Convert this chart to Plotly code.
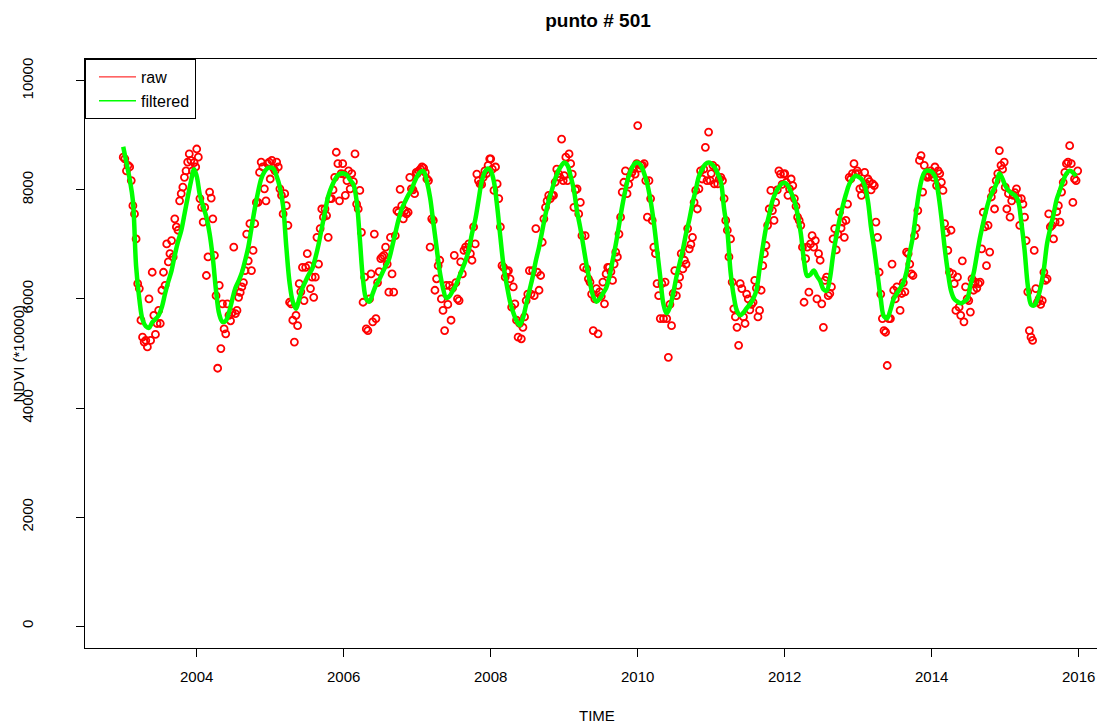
import plotly.graph_objects as go

# ---- data (NDVI * 10000) ----
years = list(range(2003, 2016))
x_ticks = [2004, 2006, 2008, 2010, 2012, 2014, 2016]
y_ticks = [0, 2000, 4000, 6000, 8000, 10000]

# raw observations: 46 composites (8-day) per year
raw_2003 = [8600, 8570, 8350, 8450, 8420, 8170, 7710, 7560, 7100, 6280, 6190, 5610, 5300, 5210, 5240, 5120, 6000, 5240, 6490, 5700, 5350, 5550, 5790, 5550, 6160, 6490, 6250, 7010, 6680, 6830, 7070, 6770, 7470, 7320, 7260, 7800, 7930, 8050, 8230, 8350, 8510, 8660, 8540, 8350, 8500, 8420]
raw_2004 = [8750, 8600, 7840, 7680, 7410, 7680, 6430, 6770, 7960, 7850, 7470, 6800, 6060, 4730, 6250, 5090, 5910, 5450, 5360, 5910, 5700, 5600, 5750, 6950, 5730, 5790, 6030, 6120, 6220, 6300, 6520, 7190, 6700, 7380, 6520, 6890, 7380, 7770, 7770, 8320, 8510, 8420, 8020, 7800, 8480, 8510]
raw_2005 = [8200, 8540, 8400, 8350, 8510, 8420, 8020, 7900, 7560, 7930, 7710, 7350, 5940, 5910, 5610, 5210, 5700, 5510, 6280, 6130, 6580, 5970, 6580, 6830, 6610, 6190, 6400, 6030, 6400, 7130, 6640, 7290, 7650, 7500, 7650, 7530, 7130, 7840, 7840, 8000, 8230, 8690, 8480, 7800, 8300, 8480]
raw_2006 = [8290, 7900, 8170, 8350, 8020, 8300, 8150, 8660, 7740, 7650, 7990, 7220, 5940, 6400, 5450, 5420, 6000, 6460, 5580, 7190, 5640, 6300, 6500, 6740, 6770, 6800, 6950, 6640, 6125, 7130, 6460, 6125, 7160, 7620, 7590, 8010, 7710, 7470, 7620, 7560, 7590, 8230, 8020, 8000, 7930, 8320]
raw_2007 = [8300, 8350, 8380, 8420, 8400, 8320, 8200, 8170, 6950, 7470, 7440, 6160, 6370, 6610, 6710, 6000, 5790, 5420, 6250, 5900, 6250, 5610, 6200, 6800, 6300, 6000, 5970, 6680, 6460, 6890, 6950, 6900, 7010, 6830, 6710, 7320, 7010, 8290, 8170, 8110, 8100, 8230, 8350, 8300, 8450, 8570]
raw_2008 = [8570, 8380, 7990, 8420, 8110, 7840, 7320, 6610, 6580, 6400, 6500, 6520, 6370, 5850, 6220, 5910, 5610, 5300, 5550, 5270, 5480, 5670, 5970, 6090, 6520, 6090, 6520, 6060, 7290, 6490, 6160, 6430, 7040, 7470, 7680, 7800, 7900, 7840, 7900, 7900, 8140, 8380, 8300, 8230, 8930, 8170]
raw_2009 = [8260, 8600, 8170, 8660, 8480, 8290, 7680, 8000, 8020, 7560, 7770, 7160, 6580, 7160, 6550, 6370, 6310, 6090, 5420, 6000, 6190, 5360, 6130, 6050, 6310, 5910, 6460, 6580, 6580, 6500, 6340, 6640, 6860, 6770, 7190, 7500, 7960, 8140, 8350, 7930, 8100, 8230, 8320, 8380, 8290, 8480]
raw_2010 = [9180, 8400, 8450, 8450, 8480, 8170, 7500, 8170, 7840, 7440, 6950, 6830, 6280, 6060, 5640, 6280, 5640, 6310, 5640, 4930, 5900, 5510, 6100, 6520, 6060, 6250, 6400, 6830, 6550, 6710, 6640, 7290, 6920, 7000, 7130, 7770, 7990, 7650, 8020, 8350, 8200, 8380, 8780, 8170, 9060, 8170]
raw_2011 = [8300, 8450, 8110, 8400, 8110, 8200, 8230, 8170, 7840, 7440, 7260, 6770, 7100, 6310, 5820, 5670, 5480, 5150, 6280, 6190, 5670, 5550, 6090, 6000, 5800, 5900, 5940, 6340, 6200, 5670, 5790, 6160, 6610, 6830, 6980, 7350, 7650, 7990, 7620, 7440, 7770, 8000, 8350, 8290, 8100, 8290]
raw_2012 = [8300, 8140, 7900, 8020, 8200, 8080, 7840, 7700, 7500, 7440, 7350, 6950, 5940, 6740, 6950, 6125, 7010, 7160, 6950, 7070, 6000, 6830, 6710, 5910, 5480, 6340, 6400, 6060, 6100, 6220, 7100, 7290, 6900, 7190, 7590, 7300, 7410, 7130, 7440, 7740, 8230, 8200, 8300, 8480, 8300, 8350]
raw_2013 = [8300, 8020, 7900, 8050, 8320, 8110, 8200, 8150, 8000, 8110, 8080, 7410, 7130, 6490, 6090, 5640, 5420, 5390, 4780, 5640, 5640, 6640, 6160, 6000, 6220, 6130, 5790, 6100, 6300, 6130, 6860, 6830, 6640, 6460, 6430, 7160, 7300, 7620, 8540, 8630, 7960, 8450, 8260, 8230, 8260, 8350]
raw_2014 = [8300, 8230, 8420, 8080, 8350, 8300, 8140, 7990, 7380, 7220, 6890, 6490, 7260, 6460, 6280, 5790, 6400, 5850, 5700, 6700, 5580, 6220, 6000, 5970, 5760, 6370, 6160, 6310, 6200, 6280, 6310, 6920, 7590, 7320, 6610, 7350, 6860, 7870, 7990, 7650, 8170, 8300, 8720, 8450, 8380, 8510]
raw_2015 = [8050, 7650, 7930, 7500, 7800, 7900, 7950, 8020, 7840, 7350, 7840, 7740, 7500, 7070, 6130, 5420, 5300, 5240, 6890, 6190, 5940, 6000, 5900, 5970, 6490, 6340, 6370, 7560, 7320, 7350, 7100, 7410, 7600, 7710, 7410, 7960, 8140, 8320, 8480, 8510, 8810, 8480, 7770, 8200, 8170, 8350]

# filtered series: 23 composites (16-day) per year
filt_2003 = [8790, 8500, 8200, 7800, 6600, 6000, 5620, 5500, 5470, 5570, 5630, 5700, 5850, 6100, 6320, 6520, 6800, 7050, 7250, 7550, 7860, 8150, 8380]
filt_2004 = [8250, 7900, 7700, 7500, 7200, 6750, 6150, 5720, 5580, 5600, 5750, 5980, 6200, 6330, 6480, 6700, 6950, 7300, 7650, 7950, 8200, 8330, 8400]
filt_2005 = [8410, 8390, 8250, 8050, 7700, 6950, 6300, 5950, 5820, 6000, 6200, 6330, 6450, 6550, 6750, 7000, 7300, 7600, 7880, 8050, 8180, 8270, 8300]
filt_2006 = [8300, 8270, 8180, 8100, 7800, 7100, 6350, 6000, 5950, 6100, 6250, 6350, 6480, 6600, 6720, 6950, 7200, 7450, 7650, 7780, 7900, 8000, 8150]
filt_2007 = [8250, 8330, 8340, 8150, 7860, 7400, 6950, 6500, 6200, 6020, 6050, 6150, 6250, 6400, 6550, 6700, 6900, 7200, 7450, 7800, 8150, 8330, 8390]
filt_2008 = [8350, 8150, 7700, 7130, 6600, 6250, 5950, 5750, 5600, 5520, 5650, 5900, 6150, 6400, 6700, 6950, 7250, 7550, 7800, 8000, 8200, 8350, 8450]
filt_2009 = [8500, 8450, 8250, 8000, 7600, 7300, 6950, 6600, 6300, 6050, 5950, 6000, 6100, 6200, 6400, 6700, 7000, 7350, 7700, 8000, 8250, 8400, 8490]
filt_2010 = [8500, 8450, 8300, 8100, 7800, 7400, 6900, 6400, 5900, 5740, 5850, 6100, 6400, 6650, 6900, 7200, 7450, 7750, 8000, 8250, 8380, 8470, 8500]
filt_2011 = [8480, 8420, 8300, 8150, 7650, 7250, 6500, 6050, 5780, 5700, 5750, 5830, 5900, 6000, 6150, 6550, 6950, 7300, 7550, 7800, 7950, 8050, 8120]
filt_2012 = [8130, 8080, 7950, 7800, 7550, 7200, 6700, 6420, 6450, 6520, 6420, 6330, 6180, 6150, 6370, 6800, 7150, 7450, 7700, 7920, 8100, 8200, 8260]
filt_2013 = [8240, 8200, 8080, 7800, 7300, 6900, 6450, 6000, 5680, 5650, 5800, 6000, 6100, 6190, 6300, 6500, 6850, 7150, 7600, 8000, 8250, 8350, 8350]
filt_2014 = [8330, 8250, 7950, 7500, 6950, 6500, 6150, 6000, 5950, 5920, 5950, 6000, 6250, 6470, 6800, 7130, 7400, 7650, 7850, 7980, 8100, 8300, 8200]
filt_2015 = [8080, 7990, 7940, 7900, 7800, 7400, 6900, 6250, 5900, 5880, 6000, 6220, 6550, 7020, 7300, 7550, 7830, 8000, 8170, 8300, 8350, 8320, 8250]

raw_by_year = [raw_2003, raw_2004, raw_2005, raw_2006, raw_2007, raw_2008, raw_2009,
               raw_2010, raw_2011, raw_2012, raw_2013, raw_2014, raw_2015]
filt_by_year = [filt_2003, filt_2004, filt_2005, filt_2006, filt_2007, filt_2008, filt_2009,
                filt_2010, filt_2011, filt_2012, filt_2013, filt_2014, filt_2015]

# composite dates as decimal years (8-day for raw, 16-day for filtered)
raw_t, raw_v, filt_t, filt_v = [], [], [], []
for yr, rv, fv in zip(years, raw_by_year, filt_by_year):
    assert len(rv) == 46, (yr, len(rv))
    assert len(fv) == 23, (yr, len(fv))
    raw_t += [yr + 8 * j / 365.0 for j in range(len(rv))]
    raw_v += rv
    filt_t += [yr + 16 * k / 365.0 for k in range(len(fv))]
    filt_v += fv

FONT = "Liberation Sans, Arial, sans-serif"

# the page body has an 8 px margin: the figure is sized/placed to compensate
W, H = 1097, 714
ML, MT, MB = 77, 51, 74
PW = W - ML              # plot width (extends to the window's right edge)
PH = H - MT - MB         # plot height

fig = go.Figure()
fig.add_trace(go.Scatter(
    x=raw_t, y=raw_v, mode="markers", showlegend=False,
    marker=dict(symbol="circle-open", size=7, color="#FF0000",
                line=dict(width=1.8, color="#FF0000"))))
fig.add_trace(go.Scatter(
    x=filt_t, y=filt_v, mode="lines", showlegend=False,
    line=dict(color="#00FF00", width=4.5, shape="spline")))
# legend entries drawn as thin lines (as in the original legend)
fig.add_trace(go.Scatter(x=[None], y=[None], mode="lines", name="raw",
                         line=dict(color="#FF0000", width=1)))
fig.add_trace(go.Scatter(x=[None], y=[None], mode="lines", name="filtered",
                         line=dict(color="#00FF00", width=1.5)))

fig.update_layout(
    width=W, height=H, autosize=False,
    margin=dict(l=ML, r=0, t=MT, b=MB, pad=0),
    plot_bgcolor="white", paper_bgcolor="white",
    font=dict(family=FONT, size=15, color="black"),
    title=dict(text="punto # 501", font=dict(family=FONT, size=19, weight="bold", color="black"),
               x=590 / W, xanchor="center", xref="container",
               y=1 - 12 / H, yanchor="middle", yref="container"),
    legend=dict(x=0, y=1, xanchor="left", yanchor="top", bgcolor="white",
                bordercolor="black", borderwidth=1, font=dict(size=16),
                tracegroupgap=0, itemwidth=37, indentation=8),
    xaxis=dict(range=[2002.48, 2002.48 + PW / 73.5], tickvals=x_ticks,
               ticktext=[str(v) for v in x_ticks],
               showgrid=False, zeroline=False, showline=True, linecolor="black", linewidth=1,
               mirror=True, ticks="outside", ticklen=8, tickcolor="black", tickwidth=1,
               ticklabelstandoff=7, tickfont=dict(size=15)),
    yaxis=dict(range=[-400, 10400], tickvals=y_ticks, ticktext=[str(v) for v in y_ticks],
               showgrid=False, zeroline=False, showline=True, linecolor="black", linewidth=1,
               ticks="outside", ticklen=8, tickcolor="black", tickwidth=1, tickangle=-90,
               ticklabelstandoff=37, tickfont=dict(size=15)),
    annotations=[
        dict(text="TIME", xref="paper", yref="paper", x=(589 - ML) / PW, y=-(707 - (MT + PH)) / PH,
             xanchor="center", yanchor="middle", showarrow=False, font=dict(size=15)),
        dict(text="NDVI (*10000)", xref="paper", yref="paper", x=(10 - ML) / PW, y=0.5,
             xanchor="center", yanchor="middle", textangle=-90, showarrow=False,
             font=dict(size=15)),
    ],
)

fig.write_html("out.html")
